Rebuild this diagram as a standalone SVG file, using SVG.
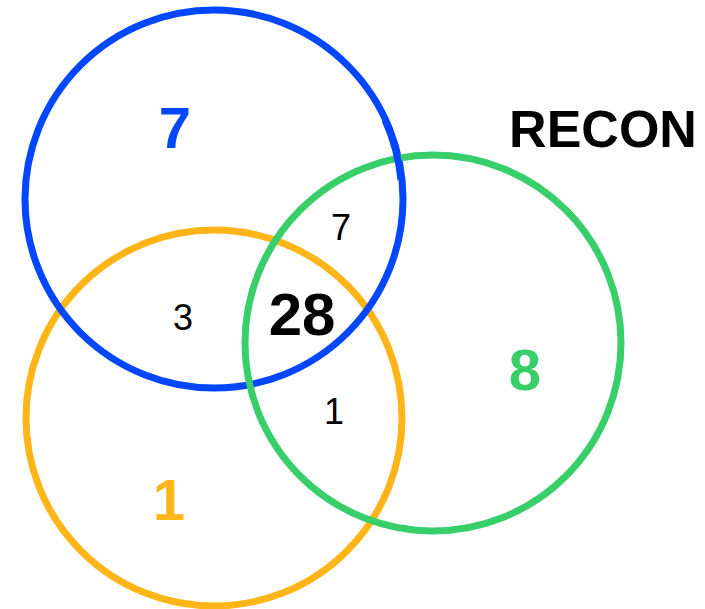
<svg xmlns="http://www.w3.org/2000/svg" width="705" height="609" viewBox="0 0 705 609">
<style>
.c{fill:none;stroke-width:7}
.t{font-family:"Liberation Sans",Arial,sans-serif;text-anchor:middle}
.b{font-weight:bold}
</style>
<rect width="705" height="609" fill="#fff"/>
<g id="orange"><circle class="c" cx="214" cy="418" r="188" stroke="#FFB418"/></g>
<g id="blue"><circle class="c" cx="214" cy="199" r="189" stroke="#0047FF"/></g>
<g id="green"><circle class="c" cx="433" cy="343" r="188" stroke="#38CE6A"/></g>
<g id="blue-top"><path class="c" stroke="#0047FF" d="M 385 120 A 189 189 0 0 1 401 180"/></g>
<g id="labels">
<text class="t b" x="175" y="148" font-size="58" fill="#0047FF">7</text>
<text class="t b" x="603" y="147" font-size="52" fill="#000">RECON</text>
<text class="t" x="341" y="240" font-size="36" fill="#000">7</text>
<text class="t" x="183" y="330" font-size="36" fill="#000">3</text>
<text class="t b" x="302" y="335" font-size="60" fill="#000">28</text>
<text class="t" x="334" y="424" font-size="36" fill="#000">1</text>
<text class="t b" x="525" y="390" font-size="58" fill="#38CE6A">8</text>
<text class="t b" x="169" y="520" font-size="58" fill="#FFB418">1</text>
</g>
</svg>
